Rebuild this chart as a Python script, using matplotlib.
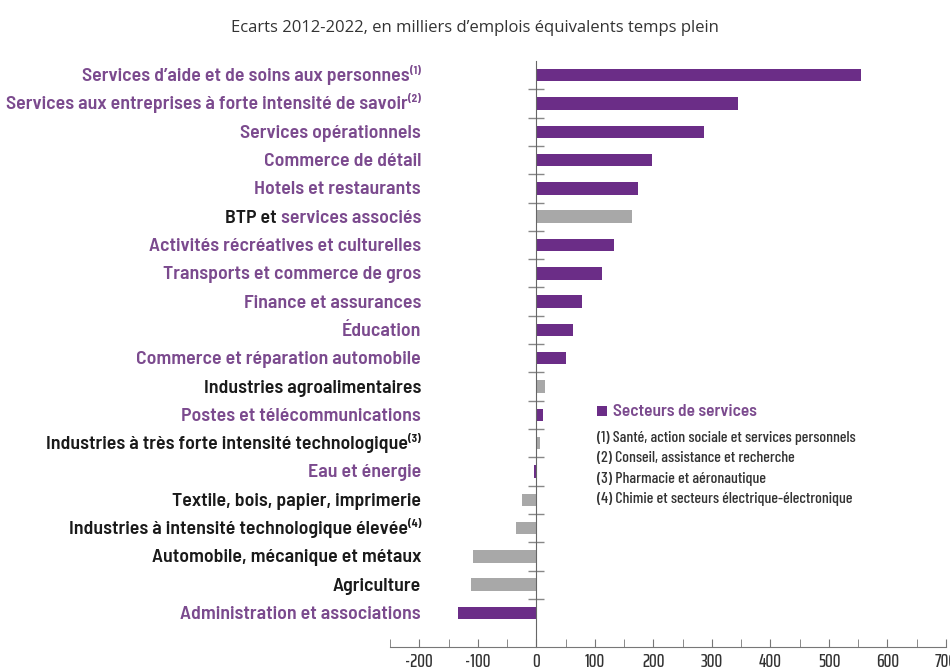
import matplotlib.pyplot as plt
from matplotlib.transforms import IdentityTransform
from matplotlib.ticker import MultipleLocator, FixedLocator

# Ecarts d'emploi 2012-2022 par secteur (milliers d'EQTP)
secteurs = [
    "Services d’aide et de soins aux personnes",
    "Services aux entreprises à forte intensité de savoir",
    "Services opérationnels",
    "Commerce de détail",
    "Hotels et restaurants",
    "BTP et services associés",
    "Activités récréatives et culturelles",
    "Transports et commerce de gros",
    "Finance et assurances",
    "Éducation",
    "Commerce et réparation automobile",
    "Industries agroalimentaires",
    "Postes et télécommunications",
    "Industries à très forte intensité technologique",
    "Eau et énergie",
    "Textile, bois, papier, imprimerie",
    "Industries à intensité technologique élevée",
    "Automobile, mécanique et métaux",
    "Agriculture",
    "Administration et associations",
]
renvois = ["(1)", "(2)", "", "", "", "", "", "", "", "", "",
           "", "", "(3)", "", "", "(4)", "", "", ""]
ecarts = [555, 344, 286, 197, 173, 163, 132, 112, 78, 63, 51,
          14, 12, 6, -4, -24, -34, -108, -112, -134]
est_service = [True, True, True, True, True, False, True, True, True, True, True,
               False, True, False, True, False, False, False, False, True]

notes = [
    "(1) Santé, action sociale et services personnels",
    "(2) Conseil, assistance et recherche",
    "(3) Pharmacie et aéronautique",
    "(4) Chimie et secteurs électrique-électronique",
]

VIOLET = "#6b2d87"
VIOLET_TXT = "#7b4a8e"
GRIS = "#a8a8a8"
NOIR = "#1a1a1a"
ETROIT = ["Barlow Semi Condensed", "DejaVu Sans"]
ETROIT2 = ["Barlow Condensed", "DejaVu Sans"]
TRES_ETROIT = ["Saira ExtraCondensed", "DejaVu Sans"]

plt.rcParams["axes.unicode_minus"] = False

W, H = 950, 672
fig = plt.figure(figsize=(W / 100, H / 100), dpi=100)
ax = fig.add_axes([390 / W, (H - 647) / H, 556 / W, 586 / H])

couleurs = [VIOLET if s else GRIS for s in est_service]
ax.barh(range(len(secteurs)), ecarts, height=0.44, color=couleurs, zorder=2)

ax.set_xlim(-250, 700)
ax.set_ylim(20.2, -0.5)

for c in ["top", "right"]:
    ax.spines[c].set_visible(False)
ax.spines["left"].set_position(("data", 0))
ax.spines["left"].set_color("#666666")
ax.spines["bottom"].set_color("#777777")

ax.xaxis.set_major_locator(MultipleLocator(100))
ax.xaxis.set_minor_locator(MultipleLocator(50))
ax.tick_params(axis="x", which="both", direction="in", length=6, color="#777777",
               labelsize=14, labelcolor="#333333", pad=4)
for lab in ax.get_xticklabels():
    lab.set_family(TRES_ETROIT)
    lab.set_fontweight(500)

ax.yaxis.set_major_locator(FixedLocator([]))
ax.yaxis.set_minor_locator(FixedLocator([i + 0.5 for i in range(19)]))
ax.tick_params(axis="y", which="minor", direction="inout", length=11,
               color="#888888", width=1)

fig.text(0.5, 1 - 28 / H, "Ecarts 2012-2022, en milliers d’emplois équivalents temps plein",
         ha="center", va="center", fontsize=12, color="#333333", family="Open Sans")

# libellés alignés à droite, avec renvois en exposant
fig.canvas.draw()
r = fig.canvas.get_renderer()
px = IdentityTransform()
x_droite = 421
for i, nom in enumerate(secteurs):
    y = ax.transData.transform((0, i))[1] - 6
    x = x_droite
    if renvois[i]:
        t = fig.text(x, y + 7, renvois[i], transform=px, ha="right", va="baseline",
                     fontsize=8, fontweight="bold", family=ETROIT,
                     color=VIOLET_TXT if est_service[i] else NOIR)
        x -= t.get_window_extent(r).width
    if nom.startswith("BTP et "):
        morceaux = [("services associés", VIOLET_TXT), ("BTP et ", NOIR)]
    else:
        morceaux = [(nom, VIOLET_TXT if est_service[i] else NOIR)]
    for txt, coul in morceaux:
        t = fig.text(x, y, txt, transform=px, ha="right", va="baseline",
                     fontsize=14.3, fontweight=600, family=ETROIT, color=coul)
        x -= t.get_window_extent(r).width

# légende
ax_leg = fig.add_axes([597 / W, (H - 416) / H, 10 / W, 10 / H])
ax_leg.set_facecolor(VIOLET)
ax_leg.set_xticks([])
ax_leg.set_yticks([])
for s in ax_leg.spines.values():
    s.set_visible(False)
fig.text(613, H - 411, "Secteurs de services", transform=px, ha="left", va="center",
         fontsize=12.5, fontweight=600, color=VIOLET_TXT, family=ETROIT)
for k, n in enumerate(notes):
    fig.text(597, H - (438 + 20.5 * k), n, transform=px, ha="left", va="center",
             fontsize=11.5, fontweight=500, color="#333333", family=ETROIT2)

fig.savefig("out.png", dpi=100)
